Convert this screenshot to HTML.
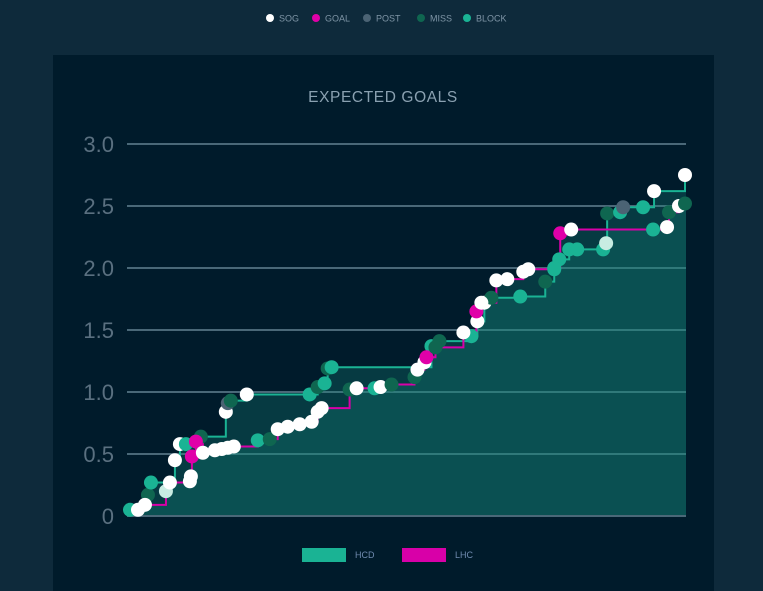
<!DOCTYPE html>
<html><head><meta charset="utf-8"><style>
html,body{margin:0;padding:0;background:#0e2a3b;width:763px;height:591px;overflow:hidden;font-family:"Liberation Sans",sans-serif}
#panel{position:absolute;left:53px;top:55px;width:661px;height:536px;background:#001b2b}
svg{position:absolute;left:0;top:0}
</style></head><body>
<div id="panel"></div>
<svg id="chart" width="763" height="591"></svg>
<script>
const yTicks=[0,0.5,1.0,1.5,2.0,2.5,3.0];
const yTickLabels=["0","0.5","1.0","1.5","2.0","2.5","3.0"];
const legendTypes=["SOG","GOAL","POST","MISS","BLOCK"];
const teams=["HCD","LHC"];
// time (game units 0..560), cumulative xG, shot type
const hcdTime=[3,21,24,48,53,59,74,99,101,104,120,183,191,198,201,205,305,313,345,351,358,365,394,419,428,433,443,451,477,480,481,494,497,517,528,559];
const hcdXg=[.05,.17,.27,.45,.58,.58,.64,.84,.91,.93,.98,.98,1.04,1.07,1.19,1.20,1.37,1.41,1.45,1.57,1.72,1.76,1.77,1.89,1.99,2.07,2.15,2.15,2.15,2.20,2.44,2.45,2.49,2.49,2.62,2.75];
const hcdType=["BLOCK","MISS","BLOCK","SOG","SOG","BLOCK","MISS","SOG","POST","MISS","SOG","BLOCK","MISS","BLOCK","MISS","BLOCK","BLOCK","MISS","BLOCK","SOG","SOG","MISS","BLOCK","MISS","BLOCK","BLOCK","BLOCK","BLOCK","BLOCK","LIGHT","MISS","BLOCK","POST","BLOCK","SOG","SOG"];
const lhcTime=[11,18,39,43,63,64,65,69,76,88,95,101,107,131,143,151,161,173,185,191,195,223,230,248,254,265,288,291,298,300,309,337,350,355,370,381,397,402,428,434,445,527,541,543,553,559];
const lhcXg=[.05,.09,.2,.27,.28,.32,.48,.6,.51,.53,.54,.55,.56,.61,.62,.70,.72,.74,.76,.84,.87,1.02,1.03,1.03,1.04,1.06,1.12,1.18,1.24,1.28,1.36,1.48,1.65,1.72,1.90,1.91,1.97,1.99,2.0,2.28,2.31,2.31,2.33,2.45,2.50,2.52];
const lhcType=["SOG","SOG","LIGHT","SOG","SOG","SOG","GOAL","GOAL","SOG","SOG","SOG","SOG","SOG","BLOCK","MISS","SOG","SOG","SOG","SOG","SOG","SOG","MISS","SOG","BLOCK","SOG","MISS","MISS","SOG","SOG","GOAL","MISS","SOG","GOAL","SOG","SOG","SOG","SOG","SOG","BLOCK","GOAL","SOG","BLOCK","SOG","MISS","SOG","MISS"];
const colors={SOG:"#ffffff",GOAL:"#e000a8",POST:"#4b6374",MISS:"#0f6650",BLOCK:"#1ab394",LIGHT:"#c8ece2"};
const X0=127,X1=686,Y0=516,PX=124;
const xs=t=>X0+t*(X1-X0)/560;
const ys=v=>Y0-v*PX;
const svg=document.getElementById('chart');
const NS="http://www.w3.org/2000/svg";
function mk(tag,attrs,parent){const e=document.createElementNS(NS,tag);for(const k in attrs)e.setAttribute(k,attrs[k]);(parent||svg).appendChild(e);return e;}
// top legend
const lgX=[270,316,367,421,467];
legendTypes.forEach((t,i)=>{
 const g=mk('g',{});
 
 
 mk('circle',{cx:lgX[i],cy:18,r:4,fill:colors[t]},g);
 const tx=mk('text',{x:lgX[i]+9,y:21.5,fill:'#7f95a6','font-size':9},g);tx.textContent=t;
});
const title=mk('text',{x:383,y:102,'text-anchor':'middle',fill:'#8aa1b1','font-size':15.5,'letter-spacing':'0.6'});
title.textContent="EXPECTED GOALS";


// grid
yTicks.forEach((v,i)=>{
 const l=mk('line',{x1:X0,x2:X1,y1:ys(v),y2:ys(v),stroke:'#4a6878','stroke-width':2});
 
 
 const tx=mk('text',{x:114,y:ys(v)+8,'text-anchor':'end',fill:'#5a7080','font-size':22});
 tx.textContent=yTickLabels[i];
 
 
});
function stepPath(T,V){
 let d="M"+xs(T[0])+","+ys(0)+" V"+ys(V[0]);
 for(let i=1;i<T.length;i++){d+=" H"+xs(T[i])+" V"+ys(V[i]);}
 d+=" H"+X1;return d;
}
const series=[[hcdTime,hcdXg,hcdType,'#1ab394'],[lhcTime,lhcXg,lhcType,'#d800a8']];
series.forEach((s,i)=>{
 const d=stepPath(s[0],s[1]);
 const a=mk('path',{d:d+" V"+Y0+" Z",fill:'rgba(20,140,125,0.28)'});
 
 
});
series.forEach((s,i)=>{
 const l=mk('path',{d:stepPath(s[0],s[1]),fill:'none',stroke:s[3],'stroke-width':2});
 
 
});
mk('line',{x1:X0,x2:X1,y1:Y0,y2:Y0,stroke:'#4a6878','stroke-width':2});
series.forEach((s,i)=>{
 s[0].forEach((t,j)=>{
  const c=mk('circle',{cx:xs(t),cy:ys(s[1][j]),r:7,fill:colors[s[2][j]]});
  
  
 });
});
// bottom legend
[[302,'#1ab394','HCD'],[402,'#d800a8','LHC']].forEach(b=>{
 const g=mk('g',{});
 
 
 mk('rect',{x:b[0],y:548,width:44,height:14,fill:b[1]},g);
 const tx=mk('text',{x:b[0]+53,y:558,fill:'#6f8bb0','font-size':9},g);tx.textContent=b[2];
});
</script>
</body></html>
